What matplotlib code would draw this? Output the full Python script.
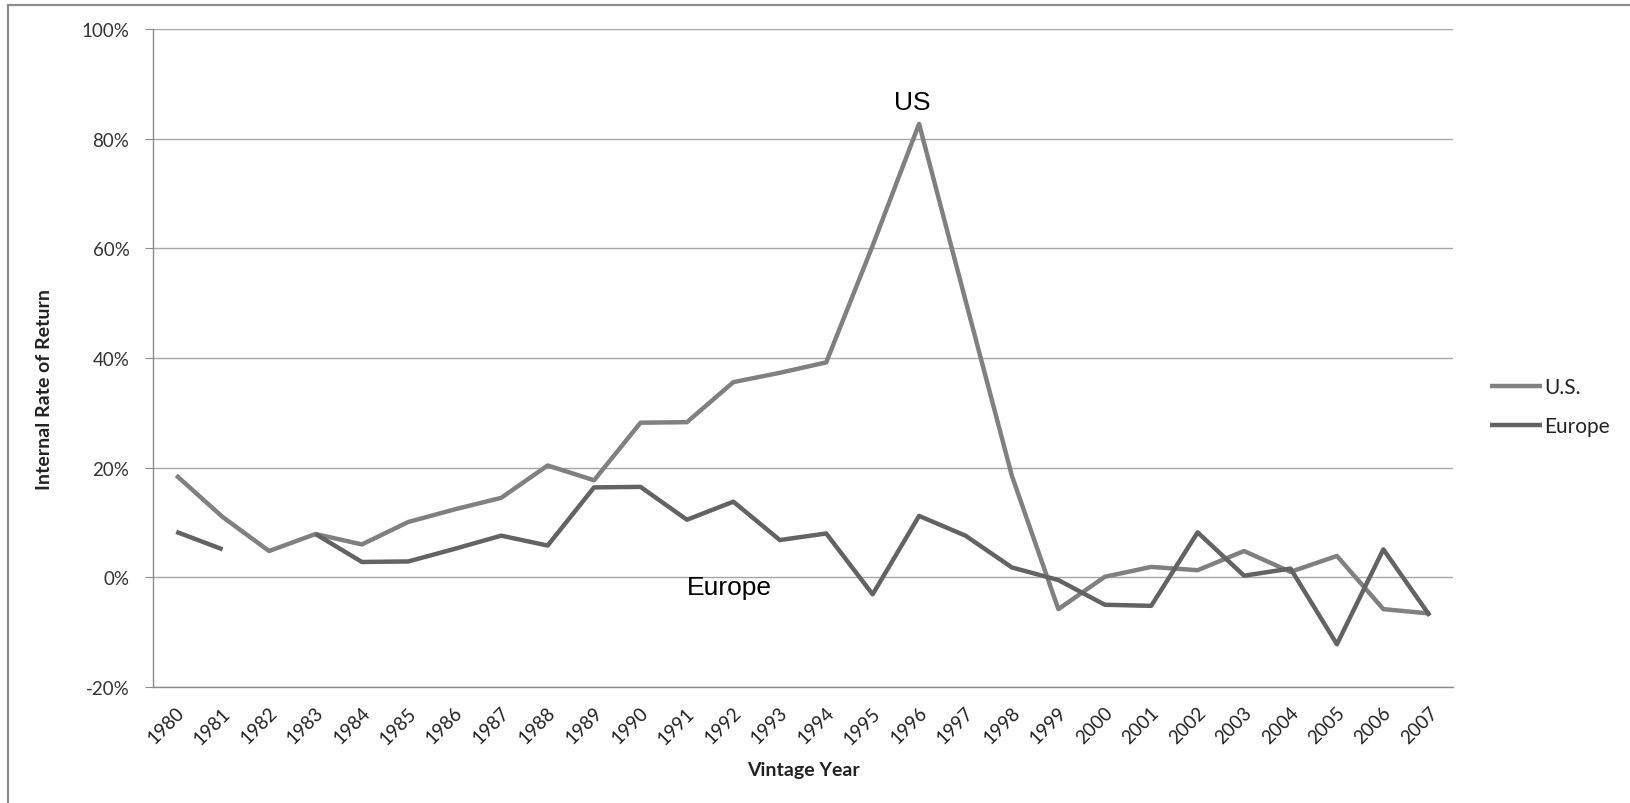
import matplotlib
matplotlib.use('Agg')
import matplotlib.pyplot as plt
import numpy as np
from matplotlib.patches import Rectangle
from matplotlib.ticker import PercentFormatter, MultipleLocator
import matplotlib.transforms as mtransforms

nan = np.nan
years = [str(y) for y in range(1980, 2008)]
us_irr = [18.6, 11.0, 4.8, 7.9, 6.0, 10.1, 12.4, 14.5, 20.4, 17.7,
          28.2, 28.3, 35.6, 37.3, 39.2, 60.5, 82.7, 50.5, 18.5, -5.8,
          0.1, 1.9, 1.3, 4.8, 1.0, 3.9, -5.8, -6.6]
europe_irr = [8.3, 5.1, nan, 7.9, 2.8, 2.9, 5.2, 7.6, 5.8, 16.4,
              16.5, 10.5, 13.8, 6.8, 8.0, -3.1, 11.2, 7.6, 1.8, -0.5,
              -5.0, -5.2, 8.2, 0.3, 1.6, -12.2, 5.1, -7.0]
series_names = ["U.S.", "Europe"]

plt.rcParams['font.family'] = ['Lato', 'DejaVu Sans']
plt.rcParams['axes.unicode_minus'] = False

W, H = 1630, 804
fig = plt.figure(figsize=(W / 100, H / 100), dpi=100)
ax = fig.add_axes([153 / W, 1 - 688 / H, (1453 - 153) / W, (688 - 30) / H])

x = np.arange(len(years))
ax.plot(x, us_irr, color='#808080', lw=3.2, label=series_names[0], solid_capstyle='butt', zorder=3)
ax.plot(x, europe_irr, color='#636363', lw=3.2, label=series_names[1], solid_capstyle='butt', zorder=4)

ax.set_xlim(-0.5, len(years) - 0.5)
ax.set_ylim(-20, 100)
ax.yaxis.set_major_locator(MultipleLocator(20))
ax.yaxis.set_major_formatter(PercentFormatter(xmax=100, decimals=0))
ax.grid(axis='y', color='#a6a6a6', lw=1.0)
ax.set_axisbelow(True)

for s in ['top', 'right']:
    ax.spines[s].set_visible(False)
for s in ['left', 'bottom']:
    ax.spines[s].set_color('#8c8c8c')
    ax.spines[s].set_linewidth(1.0)

ax.tick_params(axis='y', length=6, color='#8c8c8c', labelsize=13.5, labelcolor='#333333', pad=11)
ax.set_xticks(x)
ax.set_xticklabels(years, rotation=45, ha='right', va='top')
ax.tick_params(axis='x', length=0, labelsize=13.5, labelcolor='#222222', pad=12)
offset = mtransforms.ScaledTranslation(11 / 100, 0, fig.dpi_scale_trans)
for lab in ax.get_xticklabels():
    lab.set_transform(lab.get_transform() + offset)

ax.set_xlabel('Vintage Year', fontsize=14, fontweight='bold', color='#222222')
ax.xaxis.set_label_coords((803 - 153) / 1300, -(771 - 688) / 658, transform=ax.transAxes)
ax.xaxis.label.set_va('center')
ax.set_ylabel('Internal Rate of Return', fontsize=14, fontweight='bold', color='#222222')
ax.yaxis.set_label_coords(-(153 - 45) / 1300, (688 - 390) / 658, transform=ax.transAxes)
ax.yaxis.label.set_va('center')

ax.text(15.85, 86.7, 'US', fontsize=19, family=['Liberation Sans', 'DejaVu Sans'],
        ha='center', va='center', color='black')
ax.text(11.92, -1.7, 'Europe', fontsize=19, family=['Liberation Sans', 'DejaVu Sans'],
        ha='center', va='center', color='black')

leg = fig.legend(loc='center left', bbox_to_anchor=(1490 / W, 1 - 407.5 / H),
                 frameon=False, fontsize=15, handlelength=2.5, handletextpad=0.1,
                 labelspacing=0.9, borderpad=0, borderaxespad=0)
for t in leg.get_texts():
    t.set_color('#222222')

fig.add_artist(Rectangle((8 / W, -0.05), 1.2, 1.05 - 6 / H, transform=fig.transFigure,
                         fill=False, edgecolor='#8c8c8c', lw=1.6))

fig.savefig('out.png', dpi=100)
